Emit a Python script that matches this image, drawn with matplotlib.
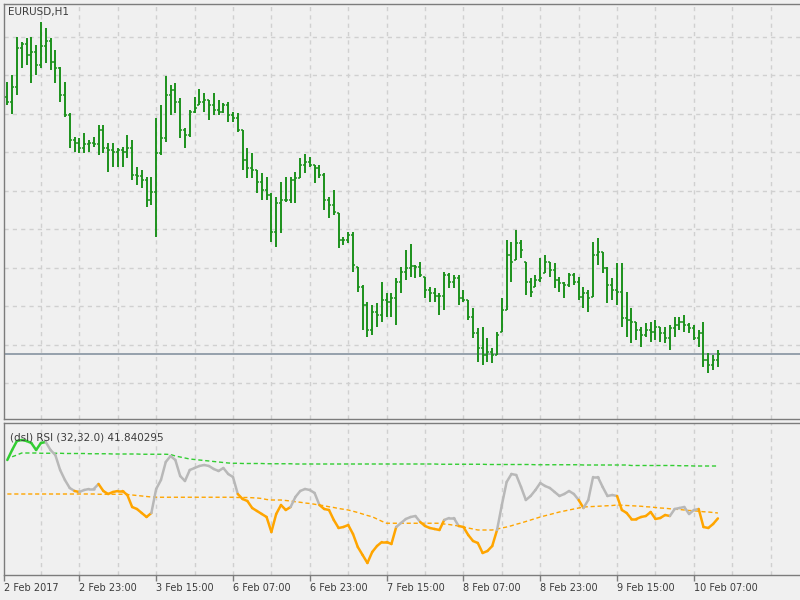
import numpy as np
import matplotlib
matplotlib.use("Agg")
import matplotlib.pyplot as plt
from matplotlib.collections import LineCollection

# EURUSD H1 bars, 2 Feb 08:00 .. 10 Feb 12:00 (2017)
high = [1.08090, 1.08125, 1.08315, 1.08290, 1.08310, 1.08315, 1.08275, 1.08390, 1.08360, 1.08310,
        1.08250, 1.08165, 1.08090, 1.07935, 1.07815, 1.07810, 1.07835, 1.07800, 1.07815, 1.07875,
        1.07875, 1.07785, 1.07785, 1.07760, 1.07765, 1.07825, 1.07800, 1.07665, 1.07650, 1.07615,
        1.07615, 1.07910, 1.07975, 1.08120, 1.08075, 1.08085, 1.08010, 1.07860, 1.07950, 1.08015,
        1.08055, 1.08035, 1.08000, 1.08035, 1.08000, 1.07985, 1.07990, 1.07940, 1.07935, 1.07850,
        1.07760, 1.07735, 1.07650, 1.07635, 1.07615, 1.07535, 1.07515, 1.07590, 1.07615, 1.07615,
        1.07640, 1.07710, 1.07730, 1.07715, 1.07675, 1.07675, 1.07635, 1.07515, 1.07550, 1.07435,
        1.07315, 1.07340, 1.07340, 1.07165, 1.07075, 1.06990, 1.06975, 1.06985, 1.07090, 1.07035,
        1.07035, 1.07110, 1.07165, 1.07250, 1.07280, 1.07175, 1.07190, 1.07115, 1.07065, 1.07060,
        1.07035, 1.07140, 1.07135, 1.07125, 1.07125, 1.07050, 1.07000, 1.06960, 1.06860, 1.06865,
        1.06810, 1.06760, 1.06840, 1.07010, 1.07300, 1.07290, 1.07350, 1.07300, 1.07190, 1.07110,
        1.07125, 1.07210, 1.07225, 1.07190, 1.07185, 1.07115, 1.07090, 1.07135, 1.07135, 1.07115,
        1.07065, 1.07050, 1.07290, 1.07310, 1.07240, 1.07165, 1.07110, 1.07185, 1.07185, 1.07040,
        1.06960, 1.06890, 1.06865, 1.06885, 1.06890, 1.06900, 1.06865, 1.06865, 1.06875, 1.06915,
        1.06915, 1.06925, 1.06885, 1.06875, 1.06850, 1.06890, 1.06735, 1.06725, 1.06750]
low = [1.07975, 1.07930, 1.08025, 1.08160, 1.08175, 1.08085, 1.08125, 1.08160, 1.08185, 1.08150,
       1.08085, 1.07990, 1.07915, 1.07760, 1.07740, 1.07735, 1.07735, 1.07740, 1.07765, 1.07725,
       1.07735, 1.07640, 1.07665, 1.07665, 1.07665, 1.07710, 1.07600, 1.07575, 1.07560, 1.07465,
       1.07475, 1.07315, 1.07725, 1.07790, 1.07925, 1.07935, 1.07810, 1.07760, 1.07815, 1.07935,
       1.07975, 1.07940, 1.07900, 1.07925, 1.07925, 1.07935, 1.07890, 1.07890, 1.07840, 1.07650,
       1.07610, 1.07610, 1.07535, 1.07500, 1.07500, 1.07290, 1.07265, 1.07335, 1.07490, 1.07485,
       1.07485, 1.07610, 1.07635, 1.07665, 1.07585, 1.07610, 1.07450, 1.07410, 1.07425, 1.07260,
       1.07275, 1.07285, 1.07140, 1.07040, 1.06850, 1.06815, 1.06825, 1.06865, 1.06890, 1.06915,
       1.06915, 1.06875, 1.07035, 1.07100, 1.07115, 1.07110, 1.07115, 1.07010, 1.06990, 1.06990,
       1.06925, 1.06950, 1.07060, 1.07060, 1.06975, 1.06990, 1.06900, 1.06810, 1.06690, 1.06675,
       1.06690, 1.06685, 1.06725, 1.06840, 1.06950, 1.07090, 1.07200, 1.07210, 1.07025, 1.07015,
       1.07065, 1.07090, 1.07135, 1.07115, 1.07060, 1.07040, 1.07010, 1.07065, 1.07075, 1.07000,
       1.06960, 1.06940, 1.07015, 1.07175, 1.07135, 1.06985, 1.07000, 1.06975, 1.06865, 1.06815,
       1.06785, 1.06800, 1.06765, 1.06815, 1.06790, 1.06800, 1.06790, 1.06785, 1.06750, 1.06815,
       1.06850, 1.06840, 1.06835, 1.06800, 1.06765, 1.06665, 1.06635, 1.06650, 1.06665]
close = [1.07990, 1.08065, 1.08260, 1.08280, 1.08225, 1.08240, 1.08175, 1.08270, 1.08295, 1.08190,
         1.08160, 1.08025, 1.07925, 1.07800, 1.07785, 1.07760, 1.07780, 1.07785, 1.07780, 1.07850,
         1.07760, 1.07750, 1.07740, 1.07750, 1.07740, 1.07760, 1.07625, 1.07620, 1.07600, 1.07500,
         1.07540, 1.07735, 1.07810, 1.08025, 1.08050, 1.07990, 1.07850, 1.07825, 1.07940, 1.07960,
         1.07990, 1.08000, 1.07975, 1.07950, 1.07940, 1.07975, 1.07925, 1.07910, 1.07850, 1.07700,
         1.07660, 1.07650, 1.07590, 1.07550, 1.07525, 1.07340, 1.07485, 1.07500, 1.07500, 1.07600,
         1.07610, 1.07675, 1.07690, 1.07675, 1.07660, 1.07625, 1.07500, 1.07475, 1.07440, 1.07300,
         1.07300, 1.07325, 1.07175, 1.07065, 1.06975, 1.06850, 1.06940, 1.06925, 1.07000, 1.06990,
         1.07010, 1.07090, 1.07140, 1.07160, 1.07170, 1.07165, 1.07125, 1.07050, 1.07035, 1.07020,
         1.07020, 1.07125, 1.07090, 1.07110, 1.07010, 1.07000, 1.06915, 1.06835, 1.06760, 1.06725,
         1.06740, 1.06725, 1.06825, 1.06950, 1.07225, 1.07190, 1.07285, 1.07250, 1.07090, 1.07040,
         1.07100, 1.07110, 1.07190, 1.07150, 1.07100, 1.07085, 1.07075, 1.07125, 1.07090, 1.07015,
         1.07035, 1.07010, 1.07225, 1.07240, 1.07160, 1.07075, 1.07050, 1.07040, 1.06910, 1.06900,
         1.06890, 1.06850, 1.06825, 1.06850, 1.06840, 1.06865, 1.06835, 1.06810, 1.06860, 1.06875,
         1.06890, 1.06875, 1.06860, 1.06810, 1.06835, 1.06700, 1.06675, 1.06700, 1.06730]
first_open = 1.08015

# (dsl) RSI (32,32.0) and its two signal levels
rsi = [65.2, 69.2, 72.8, 73.2, 72.8, 72.0, 69.2, 72.0, 72.4, 69.2,
       67.2, 61.2, 57.2, 54.0, 52.8, 52.4, 53.2, 53.6, 53.6, 55.6,
       52.8, 51.6, 52.4, 52.8, 52.8, 51.2, 46.4, 45.6, 44.0, 42.4,
       44.0, 53.6, 57.2, 64.4, 66.8, 65.2, 58.8, 56.8, 61.2, 62.0,
       62.8, 63.2, 62.8, 61.6, 60.8, 62.0, 59.6, 58.4, 51.6, 49.6,
       48.8, 46.0, 44.8, 43.6, 42.4, 36.4, 43.6, 47.2, 45.2, 46.4,
       50.4, 52.8, 53.6, 53.2, 52.0, 47.2, 45.6, 45.2, 41.2, 38.0,
       38.4, 39.2, 35.6, 30.4, 27.2, 24.0, 28.4, 30.8, 32.4, 32.4,
       31.6, 38.4, 40.0, 41.6, 42.4, 42.8, 40.4, 38.8, 38.0, 37.6,
       37.2, 41.2, 42.0, 42.0, 38.8, 38.4, 35.2, 32.8, 32.0, 28.0,
       28.8, 30.8, 37.2, 47.2, 56.4, 59.6, 59.2, 54.4, 49.2, 50.8,
       53.2, 56.0, 54.8, 54.0, 52.4, 50.8, 51.6, 52.8, 51.6, 49.2,
       46.0, 49.2, 58.4, 58.4, 54.4, 50.8, 51.2, 50.8, 45.2, 44.0,
       41.6, 41.6, 42.4, 42.8, 44.4, 41.6, 42.0, 43.2, 42.8, 45.6,
       46.0, 46.4, 43.6, 45.2, 45.6, 38.4, 38.0, 39.6, 41.840295]
level_up = [np.nan, 66.5, 67.2, 68.0, 68.0, 68.0, 68.0, 67.9, 67.9, 67.9,
            67.9, 67.9, 67.8, 67.8, 67.8, 67.8, 67.8, 67.7, 67.7, 67.7,
            67.7, 67.7, 67.6, 67.6, 67.6, 67.6, 67.6, 67.6, 67.5, 67.5,
            67.5, 67.5, 67.5, 67.5, 67.4, 66.8, 66.4, 66.0, 65.6, 65.4,
            65.2, 65.0, 64.8, 64.6, 64.4, 64.2, 64.0, 63.9, 63.9, 63.8,
            63.8, 63.8, 63.8, 63.8, 63.7, 63.7, 63.7, 63.7, 63.7, 63.7,
            63.6, 63.6, 63.6, 63.6, 63.6, 63.6, 63.6, 63.6, 63.6, 63.6,
            63.6, 63.6, 63.6, 63.6, 63.6, 63.6, 63.6, 63.6, 63.6, 63.6,
            63.6, 63.6, 63.6, 63.6, 63.6, 63.6, 63.6, 63.6, 63.6, 63.6,
            63.5, 63.5, 63.5, 63.5, 63.5, 63.5, 63.5, 63.5, 63.5, 63.5,
            63.4, 63.4, 63.4, 63.4, 63.4, 63.4, 63.4, 63.4, 63.4, 63.4,
            63.3, 63.3, 63.3, 63.3, 63.3, 63.3, 63.3, 63.3, 63.3, 63.3,
            63.2, 63.2, 63.2, 63.2, 63.2, 63.2, 63.2, 63.2, 63.2, 63.2,
            63.0, 63.0, 63.0, 63.0, 63.0, 63.0, 63.0, 63.0, 63.0, 63.0,
            62.9, 62.9, 62.9, 62.8, 62.8, 62.8, 62.8, 62.8, 62.8]
level_dn = [51.6, 51.6, 51.6, 51.6, 51.6, 51.6, 51.6, 51.6, 51.6, 51.6,
            51.6, 51.6, 51.6, 51.6, 51.6, 51.6, 51.6, 51.6, 51.6, 51.5,
            51.5, 51.5, 51.5, 51.5, 51.5, 51.4, 51.2, 51.0, 50.8, 50.6,
            50.4, 50.3, 50.3, 50.3, 50.3, 50.3, 50.3, 50.3, 50.3, 50.3,
            50.3, 50.3, 50.3, 50.3, 50.3, 50.3, 50.3, 50.3, 50.2, 50.2,
            50.2, 50.1, 50.0, 49.8, 49.4, 49.2, 49.2, 49.2, 49.0, 48.8,
            48.5, 48.3, 48.0, 47.8, 47.5, 47.2, 46.9, 46.5, 46.2, 45.8,
            45.5, 45.2, 44.7, 44.2, 43.6, 43.0, 42.5, 41.6, 40.7, 39.9,
            39.9, 39.9, 39.9, 39.9, 39.9, 39.9, 39.9, 39.9, 39.9, 39.9,
            39.9, 39.6, 39.4, 39.1, 38.8, 38.4, 38.0, 37.6, 37.2, 37.2,
            37.2, 37.2, 37.6, 38.0, 38.4, 38.9, 39.5, 40.0, 40.6, 41.2,
            41.8, 42.4, 42.9, 43.4, 43.9, 44.4, 44.8, 45.2, 45.6, 46.0,
            46.4, 46.5, 46.6, 46.7, 46.8, 46.9, 47.0, 47.2, 47.1, 47.0,
            46.9, 46.8, 46.7, 46.5, 46.4, 46.2, 46.0, 45.9, 45.7, 45.5,
            45.4, 45.2, 45.0, 44.9, 44.7, 44.5, 44.4, 44.2, 44.0]
# colour of the RSI line, as runs of bars
rsi_runs = [("up", 9), ("mid", 6), ("dn", 1), ("mid", 4), ("dn", 11), ("mid", 18),
            ("dn", 11), ("mid", 6), ("dn", 16), ("mid", 5), ("dn", 5), ("mid", 3),
            ("dn", 8), ("mid", 17), ("dn", 1), ("mid", 7), ("dn", 11), ("mid", 6), ("dn", 4)]

date_ticks = [-0.69, 15, 31, 47, 63, 79, 95, 111, 127, 143]
date_labels = ["2 Feb 2017", "2 Feb 23:00", "3 Feb 15:00", "6 Feb 07:00", "6 Feb 23:00",
               "7 Feb 15:00", "8 Feb 07:00", "8 Feb 23:00", "9 Feb 15:00", "10 Feb 07:00"]

bg = "#f0f0f0"
grid_c = "#d0d0d0"
frame_c = "#7c7c7c"
bar_c = "#1c911c"
text_c = "#3c3c3c"
state_colors = {"up": "#32cd32", "mid": "#b8b8b8", "dn": "#ffa500"}

n = len(close)
x = np.arange(n)
c = np.array(close)
o = np.clip(np.r_[first_open, c[:-1]], low, high)

fig = plt.figure(figsize=(8, 6), dpi=100, facecolor=bg)
W, H = 800.0, 600.0
ax1 = fig.add_axes([4 / W, 1 - 419 / H, 796 / W, 415 / H])
ax2 = fig.add_axes([4 / W, 1 - 575 / H, 796 / W, 152 / H])

xlim = (-0.69, 165.1)
vgrid = np.arange(7, 166, 8)

# ---- price panel
ax1.set_facecolor(bg)
ax1.set_xlim(*xlim)
ax1.set_ylim(1.06405, 1.0848)
for g in np.arange(10):
    ax1.axhline(1.083165 - 0.001925 * g, color=grid_c, lw=1, ls=(0, (3, 3)), zorder=0)
for v in vgrid:
    ax1.axvline(v, color=grid_c, lw=1, ls=(0, (3, 3)), zorder=0)
ax1.vlines(x, low, high, color=bar_c, lw=1.4, zorder=3)
ax1.hlines(o, x - 0.42, x, color=bar_c, lw=1.1, zorder=3)
ax1.hlines(c, x, x + 0.42, color=bar_c, lw=1.1, zorder=3)
ax1.axhline(close[-1], color="#7d8b99", lw=1.1, zorder=2)
ax1.set_xticks([])
ax1.set_yticks([])

# ---- RSI panel
ax2.set_facecolor(bg)
ax2.set_xlim(*xlim)
ax2.set_ylim(19.2, 80)
for v in vgrid:
    ax2.axvline(v, color=grid_c, lw=1, ls=(0, (3, 3)), zorder=0)
ax2.plot(x, level_up, color="#32cd32", lw=1, ls=(0, (3, 2)), zorder=2)
ax2.plot(x, level_dn, color="#ffa500", lw=1, ls=(0, (3, 2)), zorder=2)

state = []
for s, k in rsi_runs:
    state += [s] * k
segs = [[(x[i - 1], rsi[i - 1]), (x[i], rsi[i])] for i in range(1, n)]
cols = [state_colors[state[i]] for i in range(1, n)]
ax2.add_collection(LineCollection(segs, colors=cols, linewidths=1.8,
                                  capstyle="round", joinstyle="round", zorder=3))
ax2.set_yticks([])
ax2.set_xticks(date_ticks)
ax2.set_xticklabels(date_labels, fontsize=7, color=text_c, ha="left")
ax2.tick_params(axis="x", length=4, width=1, color=frame_c, pad=2)

for ax in (ax1, ax2):
    ax.spines["right"].set_visible(False)
    for sp in ("left", "top", "bottom"):
        ax.spines[sp].set_color(frame_c)
        ax.spines[sp].set_linewidth(1)

fig.text(8 / W, 1 - 12.5 / H, "EURUSD,H1", fontsize=7.5, color=text_c, va="center")
fig.text(10 / W, 1 - 437 / H, "(dsl) RSI (32,32.0) 41.840295", fontsize=7.5,
         color=text_c, va="center")

fig.savefig("out.png", dpi=100, facecolor=bg)
